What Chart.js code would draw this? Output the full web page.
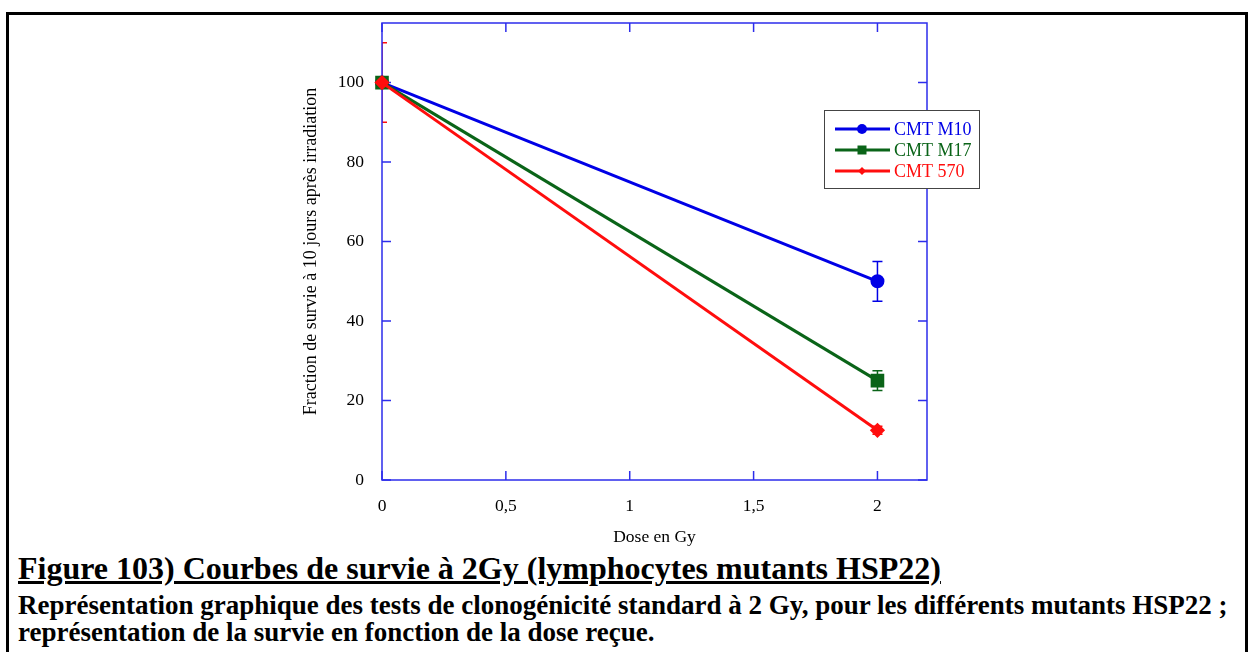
<!DOCTYPE html>
<html>
<head>
<meta charset="utf-8">
<script src="https://cdn.jsdelivr.net/npm/chart.js@4.4.1/dist/chart.umd.min.js"></script>
<style>
body { margin: 0; background: #fff; width: 1254px; height: 652px; overflow: hidden; position: relative; font-family: "Liberation Serif", "Times New Roman", serif; }
#frame { position: absolute; left: 6px; top: 12px; width: 1236px; height: 700px; border: 3px solid #000; }
#chartBox { position: absolute; left: 0; top: 0; }
.cap { position: absolute; left: 18px; font-weight: bold; white-space: nowrap; color: #000; line-height: 1; }
#cap1 { top: 552px; font-size: 32px; text-decoration: underline; }
#cap2 { top: 592px; font-size: 27px; }
#cap3 { top: 619px; font-size: 27px; }
</style>
</head>
<body>
<div id="frame"></div>
<canvas id="chartBox" width="1254" height="548"></canvas>
<div class="cap" id="cap1">Figure 103) Courbes de survie à 2Gy (lymphocytes mutants HSP22)</div>
<div class="cap" id="cap2">Représentation graphique des tests de clonogénicité standard à 2 Gy, pour les différents mutants HSP22 ;</div>
<div class="cap" id="cap3">représentation de la survie en fonction de la dose reçue.</div>
<script>
// DATA
const doses = [0, 2];
const survieM10 = [100, 50];
const survieM17 = [100, 25];
const survie570 = [100, 12.5];
const errM10 = [0, 5];
const errM17 = [0, 2.5];
const err570 = [10, 1];
const seriesNames = ['CMT M10', 'CMT M17', 'CMT 570'];
const xTicks = [0, 0.5, 1, 1.5, 2];
const yTicks = [0, 20, 40, 60, 80, 100];

const FONT = '"Liberation Serif", "Times New Roman", serif';
const AXIS_BLUE = 'rgb(45,45,235)';

function pts(vals) {
    return doses.map((d, i) => ({ x: d, y: vals[i] }));
}

// ERROR BARS (drawn first, axis goes over them)
const errorPlugin = {
    id: 'errbars',
    beforeDatasetsDraw(chart) {
        const { ctx, chartArea: a, scales } = chart;
        ctx.save();
        ctx.beginPath();
        ctx.rect(a.left, a.top, a.right - a.left, a.bottom - a.top);
        ctx.clip();
        chart.data.datasets.forEach(ds => {
            ctx.strokeStyle = ds.borderColor;
            ctx.lineWidth = 1.5;
            ds.data.forEach((p, i) => {
                const e = ds.errors[i];
                if (!e) return;
                const x = scales.x.getPixelForValue(p.x);
                const y1 = scales.y.getPixelForValue(p.y + e);
                const y2 = scales.y.getPixelForValue(p.y - e);
                ctx.beginPath();
                ctx.moveTo(x, y1); ctx.lineTo(x, y2);
                ctx.moveTo(x - 5, y1); ctx.lineTo(x + 5, y1);
                ctx.moveTo(x - 5, y2); ctx.lineTo(x + 5, y2);
                ctx.stroke();
            });
        });
        ctx.restore();
    }
};

// FRAME + INWARD TICKS
const framePlugin = {
    id: 'frame',
    beforeDatasetsDraw(chart) {
        const { ctx, chartArea: a, scales } = chart;
        ctx.save();
        ctx.strokeStyle = AXIS_BLUE;
        ctx.lineWidth = 1.5;
        ctx.strokeRect(a.left, a.top, a.right - a.left, a.bottom - a.top);
        ctx.beginPath();
        const len = 9;
        xTicks.forEach(v => {
            const x = scales.x.getPixelForValue(v);
            ctx.moveTo(x, a.bottom); ctx.lineTo(x, a.bottom - len);
            ctx.moveTo(x, a.top); ctx.lineTo(x, a.top + len);
        });
        yTicks.forEach(v => {
            const y = scales.y.getPixelForValue(v);
            ctx.moveTo(a.left, y); ctx.lineTo(a.left + len, y);
            ctx.moveTo(a.right, y); ctx.lineTo(a.right - len, y);
        });
        ctx.stroke();
        ctx.restore();
    }
};

// LEGEND
function marker(ctx, style, x, y, r) {
    ctx.beginPath();
    if (style === 'circle') {
        ctx.arc(x, y, r, 0, Math.PI * 2);
    } else if (style === 'rect') {
        ctx.rect(x - r, y - r, 2 * r, 2 * r);
    } else {
        ctx.moveTo(x - r, y); ctx.lineTo(x, y - r); ctx.lineTo(x + r, y); ctx.lineTo(x, y + r);
        ctx.closePath();
    }
    ctx.fill();
}

const legendPlugin = {
    id: 'boxLegend',
    afterDraw(chart) {
        const ctx = chart.ctx;
        ctx.save();
        ctx.fillStyle = '#fff';
        ctx.fillRect(824, 110, 156, 79);
        ctx.strokeStyle = '#444';
        ctx.lineWidth = 1;
        ctx.strokeRect(824.5, 110.5, 155, 78);
        const sizes = [5, 4.5, 4];
        chart.data.datasets.forEach((ds, i) => {
            const y = 129 + i * 21;
            ctx.strokeStyle = ds.borderColor;
            ctx.fillStyle = ds.borderColor;
            ctx.lineWidth = 3;
            ctx.beginPath();
            ctx.moveTo(835, y); ctx.lineTo(890, y);
            ctx.stroke();
            marker(ctx, ds.pointStyle, 862, y, sizes[i]);
            ctx.font = '18px ' + FONT;
            ctx.textBaseline = 'middle';
            ctx.fillText(ds.label, 894, y + 1);
        });
        ctx.restore();
    }
};

new Chart(document.getElementById('chartBox'), {
    type: 'line',
    data: {
        datasets: [{
            label: seriesNames[0],
            data: pts(survieM10),
            errors: errM10,
            borderColor: '#0000e6',
            backgroundColor: '#0000e6',
            borderWidth: 3,
            pointStyle: 'circle',
            pointRadius: 5.5,
            order: 3
        }, {
            label: seriesNames[1],
            data: pts(survieM17),
            errors: errM17,
            borderColor: '#0a6418',
            backgroundColor: '#0a6418',
            borderWidth: 3,
            pointStyle: 'rect',
            pointRadius: 7.5,
            order: 2
        }, {
            label: seriesNames[2],
            data: pts(survie570),
            errors: err570,
            borderColor: '#ff0d0d',
            backgroundColor: '#ff0d0d',
            borderWidth: 3,
            pointStyle: 'rectRot',
            pointRadius: 5.5,
            order: 1
        }]
    },
    options: {
        responsive: false,
        animation: false,
        clip: false,
        layout: { padding: { left: 290, right: 327, top: 23, bottom: 0 } },
        plugins: { legend: { display: false }, tooltip: { enabled: false } },
        scales: {
            x: {
                type: 'linear',
                min: 0,
                max: 2.2,
                afterBuildTicks: s => { s.ticks = xTicks.map(v => ({ value: v })); },
                afterFit: s => { s.height = 68; },
                grid: { display: false },
                border: { display: false },
                ticks: {
                    padding: 8,
                    color: '#000',
                    font: { family: FONT, size: 17.5 },
                    callback: v => String(v).replace('.', ',')
                },
                title: {
                    display: true,
                    text: 'Dose en Gy',
                    color: '#000',
                    font: { family: FONT, size: 17.5 },
                    padding: { top: 0, bottom: 0 }
                }
            },
            y: {
                type: 'linear',
                min: 0,
                max: 115,
                afterBuildTicks: s => { s.ticks = yTicks.map(v => ({ value: v })); },
                afterFit: s => { s.width = 92; },
                grid: { display: false },
                border: { display: false },
                ticks: {
                    padding: 10,
                    color: '#000',
                    font: { family: FONT, size: 17.5 }
                },
                title: {
                    display: true,
                    text: 'Fraction de survie à 10 jours après irradiation',
                    color: '#000',
                    font: { family: FONT, size: 18 },
                    padding: { top: 10, bottom: 0 }
                }
            }
        }
    },
    plugins: [errorPlugin, framePlugin, legendPlugin]
});
</script>
</body>
</html>
